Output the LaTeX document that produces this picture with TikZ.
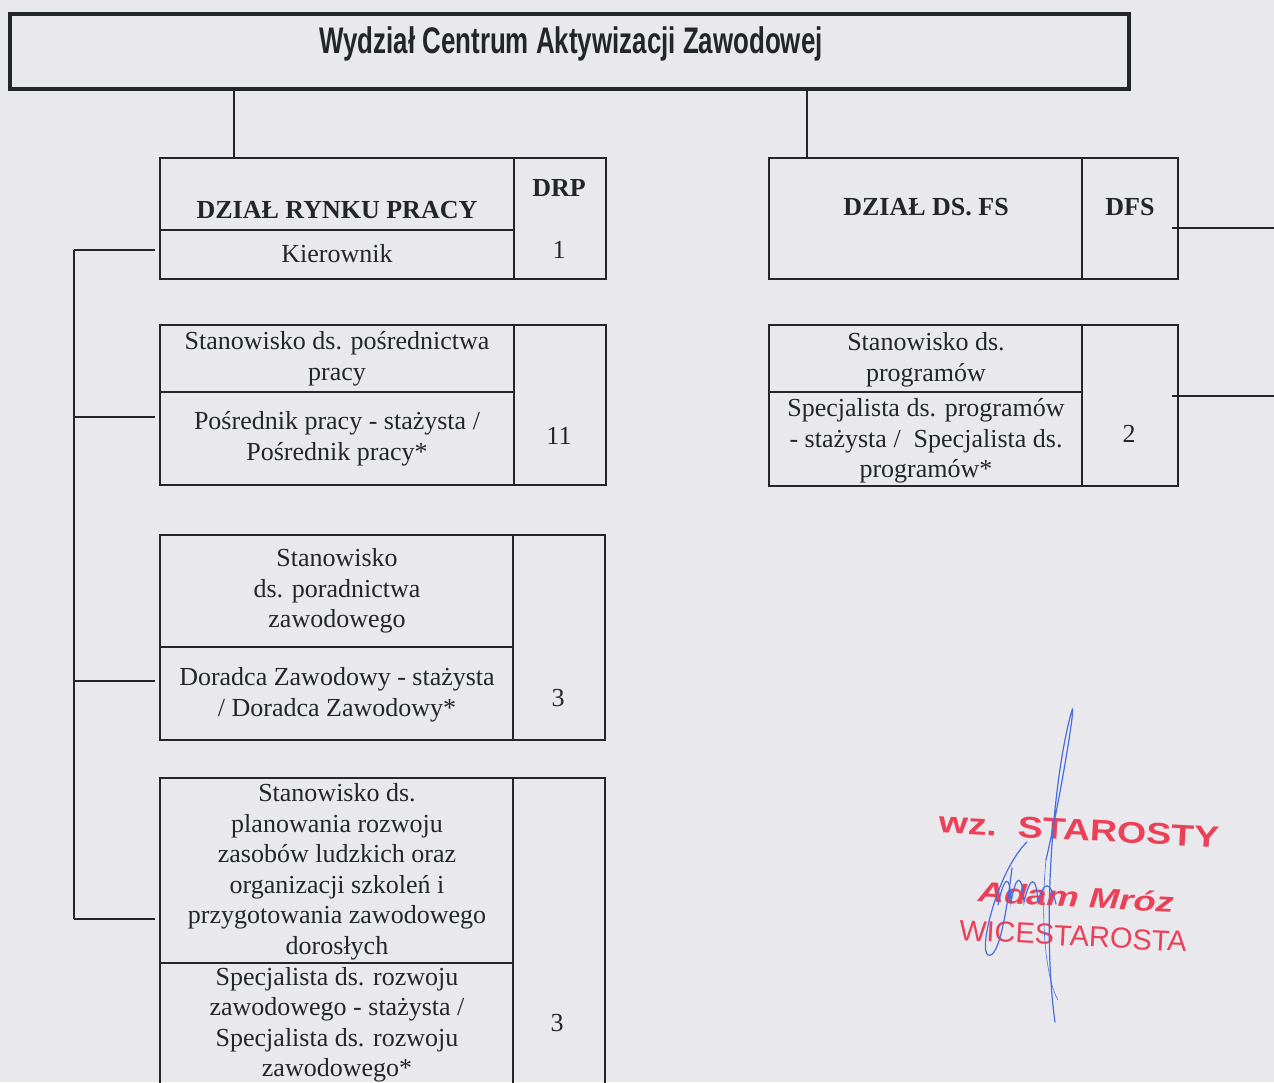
\documentclass[tikz,border=0pt]{standalone}
\usepackage{fontspec}
\setmainfont{Liberation Serif}
\newfontfamily\headfont{Liberation Sans}
\newfontfamily\stampfont{Liberation Sans}
\usetikzlibrary{positioning,calc}

\definecolor{paper}{RGB}{233,233,237}
\definecolor{ink}{RGB}{35,38,40}
\definecolor{stampred}{RGB}{236,64,88}
\definecolor{pen}{RGB}{72,110,222}

\begin{document}
\begin{tikzpicture}[%
    x=0.5pt,
    y=-0.5pt,
    frame/.style={draw=ink, line width=0.8pt, inner sep=0, outer sep=0, anchor=north west},
    txt/.style={text=ink, align=center, inner sep=0, font={\fontsize{13}{15.25}\selectfont}},
    bold txt/.style={txt, font={\fontsize{13}{15.25}\selectfont\bfseries}},
    link/.style={draw=ink, line width=0.8pt},
    stamp/.style={text=stampred, inner sep=0, rotate=-3},
    sig/.style={draw=pen, line width=0.6pt, line cap=round}
    ]

    \fill[paper] (0,0) rectangle (1274,1082);
    \useasboundingbox (0,0) rectangle (1274,1082);
    \clip (0,0) rectangle (1274,1082);

    % naglowek
    \node[frame, line width=2pt, minimum width=559.5pt, minimum height=37.5pt] (title) at (10,14) {};
    \node[txt, font={\headfont\bfseries\fontsize{18.5}{20}\selectfont}] (title text) at (571,44) {\scalebox{0.7}[1]{Wydział Centrum Aktywizacji Zawodowej}};

    % DRP
    \node[frame, minimum width=223pt, minimum height=60.5pt] (drp) at (160,158) {};
        \draw[link] (514,158) -- (514,279);
        \draw[link] (160,230) -- (514,230);
    \node[bold txt] (drp name) at (337,210) {DZIAŁ RYNKU PRACY};
    \node[bold txt] (drp code) at (559,188) {DRP};
    \node[txt] (kier) at (337,254) {Kierownik};
    \node[txt] (kier n) at (559,250) {1};

    \node[frame, minimum width=223pt, minimum height=80pt] (posr) at (160,325) {};
        \draw[link] (514,325) -- (514,485);
        \draw[link] (160,392) -- (514,392);
    \node[txt] (posr name) at (337,359) {Stanowisko ds. pośrednictwa\\pracy};
    \node[txt] (posr job) at (337,439) {Pośrednik pracy - stażysta /\\Pośrednik pracy*};
    \node[txt] (posr n) at (559,436) {11};

    \node[frame, minimum width=222.5pt, minimum height=102.5pt] (dorad) at (160,535) {};
        \draw[link] (513,535) -- (513,740);
        \draw[link] (160,647) -- (513,647);
    \node[txt] (dorad name) at (337,591) {Stanowisko\\ds. poradnictwa\\zawodowego};
    \node[txt] (dorad job) at (337,695) {Doradca Zawodowy - stażysta\\/ Doradca Zawodowy*};
    \node[txt] (dorad n) at (558,698) {3};

    \node[frame, minimum width=222.5pt, minimum height=158.5pt] (rozw) at (160,778) {};
        \draw[link] (513,778) -- (513,1095);
        \draw[link] (160,963) -- (513,963);
    \node[txt] (rozw name) at (337,872) {Stanowisko ds.\\planowania rozwoju\\zasobów ludzkich oraz\\organizacji szkoleń i\\przygotowania zawodowego\\dorosłych};
    \node[txt] (rozw job) at (337,1025) {Specjalista ds. rozwoju\\zawodowego - stażysta /\\Specjalista ds. rozwoju\\zawodowego*};
    \node[txt] (rozw n) at (557,1023) {3};

    % DFS
    \node[frame, minimum width=204.5pt, minimum height=60.5pt] (fs) at (769,158) {};
        \draw[link] (1082,158) -- (1082,279);
    \node[bold txt] (fs name) at (926,207) {DZIAŁ DS. FS};
    \node[bold txt] (fs code) at (1130,207) {DFS};

    \node[frame, minimum width=204.5pt, minimum height=80.5pt] (prog) at (769,325) {};
        \draw[link] (1082,325) -- (1082,486);
        \draw[link] (769,392) -- (1082,392);
    \node[txt] (prog name) at (926,360) {Stanowisko ds.\\programów};
    \node[txt] (prog job) at (926,441) {Specjalista ds. programów\\- stażysta /\ \ Specjalista ds.\\programów*};
    \node[txt] (prog n) at (1129,434) {2};

    % polaczenia
    \coordinate (drp top) at (234,158);
    \coordinate (fs top) at (807,158);
    \draw[link] (drp top |- title.south) -- (drp top);
    \draw[link] (fs top |- title.south) -- (fs top);

    \coordinate (bus top) at (74,250);
    \coordinate (bus end) at (74,919);
    \coordinate (in1) at (155,250);
    \coordinate (in2) at (155,417);
    \coordinate (in3) at (155,681);
    \coordinate (in4) at (155,919);
    \draw[link] (bus top) -- (bus end);
    \foreach \n in {1,...,4}
        \draw[link] (in\n -| bus top) -- (in\n);

    \coordinate (out1) at (1274,228);
    \coordinate (out2) at (1274,396);
    \draw[link] (fs.east |- out1) ++(-3pt,0) -- (out1);
    \draw[link] (prog.east |- out2) ++(-3pt,0) -- (out2);

    % pieczatka
    \node[stamp, font={\stampfont\bfseries\fontsize{15}{15}\selectfont}] (stamp head) at (1079,830) {\scalebox{1.25}[1]{wz.\ \ STAROSTY}};
    \node[stamp, font={\stampfont\bfseries\itshape\fontsize{14}{14}\selectfont}] (stamp name) at (1076,897) {\scalebox{1.3}[1]{Adam Mróz}};
    \node[stamp, font={\stampfont\fontsize{14.5}{14.5}\selectfont}] (stamp role) at (1073,936) {WICESTAROSTA};

    % podpis
    \draw[sig] (1055,1022) .. controls (1042,930) and (1052,780) .. (1072,710)
        .. controls (1076,700) and (1062,790) .. (1046,860);
    \draw[sig] (1027,842) .. controls (998,870) and (978,950) .. (988,955)
        .. controls (1000,960) and (1008,900) .. (1012,868);
    \draw[sig] (998,905) .. controls (1004,876) and (1010,872) .. (1011,902)
        .. controls (1016,874) and (1022,872) .. (1024,902)
        .. controls (1030,876) and (1036,874) .. (1038,902)
        .. controls (1044,880) and (1050,880) .. (1056,904);
    \draw[sig, line width=0.3pt] (1046,860) .. controls (1040,920) and (1046,980) .. (1058,1000);
\end{tikzpicture}
\end{document}
